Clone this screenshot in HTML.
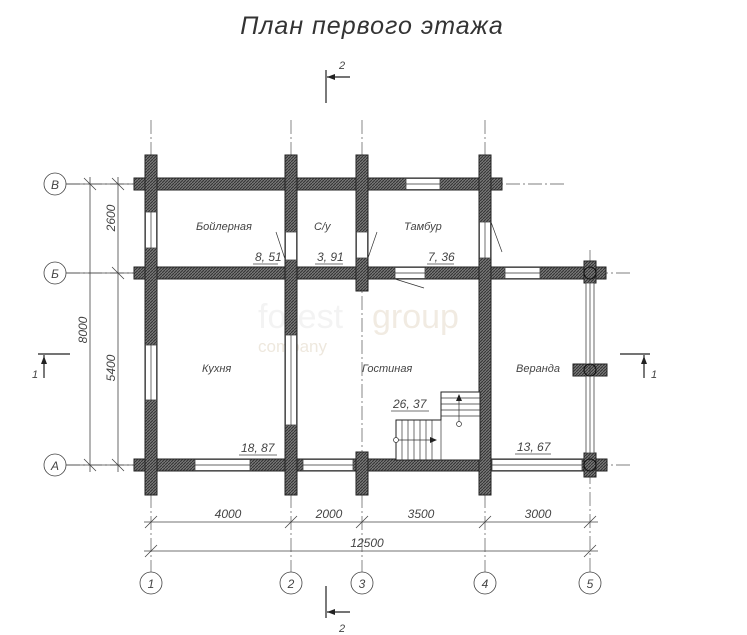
<!DOCTYPE html>
<html><head><meta charset="utf-8"><style>
body{margin:0;background:#fff}
svg{display:block}
text{font-family:"Liberation Sans",sans-serif;font-style:italic}
</style></head><body>
<svg width="747" height="635" viewBox="0 0 747 635">
<defs>
<pattern id="h" width="3" height="3" patternUnits="userSpaceOnUse"><rect width="3" height="3" fill="#777"/><path d="M0 3L3 0" stroke="#333" stroke-width="1"/></pattern>
</defs>
<g fill="#444">
<text x="372" y="34" font-size="25" text-anchor="middle" fill="#333" letter-spacing="1">План первого этажа</text>
</g>
<!-- section marks -->
<g stroke="#222" stroke-width="1.2" fill="none">
<line x1="326" y1="70" x2="326" y2="103"/><line x1="327" y1="77" x2="350" y2="77"/>
<line x1="326" y1="586" x2="326" y2="618"/><line x1="327" y1="612" x2="350" y2="612"/>
<line x1="38" y1="354" x2="70" y2="354"/><line x1="44" y1="355" x2="44" y2="378"/>
<line x1="620" y1="354" x2="650" y2="354"/><line x1="644" y1="355" x2="644" y2="378"/>
</g>
<g fill="#222"><path d="M327 77l8-3v6z"/><path d="M327 612l8-3v6z"/><path d="M44 356l-3 8h6z"/><path d="M644 356l-3 8h6z"/></g>
<!-- watermark -->
<text x="258" y="328" font-size="34" style="font-style:normal;fill:#f3f3f3">forest</text>
<text x="372" y="328" font-size="34" style="font-style:normal;fill:#f1ebe2">group</text>
<text x="258" y="352" font-size="17" style="font-style:normal;fill:#eee8de">company</text>
<g fill="#444">
<text x="339" y="69" font-size="11">2</text><text x="339" y="632" font-size="11">2</text>
<text x="32" y="378" font-size="11">1</text><text x="651" y="378" font-size="11">1</text>
</g>
<!-- axis lines -->
<g stroke="#555" stroke-width="0.7" stroke-dasharray="14 3 2 3" fill="none">
<line x1="151" y1="120" x2="151" y2="572"/><line x1="291" y1="120" x2="291" y2="572"/>
<line x1="362" y1="120" x2="362" y2="572"/><line x1="485" y1="120" x2="485" y2="572"/>
<line x1="590" y1="250" x2="590" y2="572"/>
<line x1="66" y1="184" x2="565" y2="184"/><line x1="66" y1="273" x2="630" y2="273"/><line x1="66" y1="465" x2="630" y2="465"/>
</g>
<!-- walls -->
<g fill="url(#h)" stroke="#222" stroke-width="1">
<rect x="134" y="178" width="368" height="12"/>
<rect x="134" y="267" width="472" height="12"/>
<rect x="134" y="459" width="473" height="12"/>
<rect x="145" y="155" width="12" height="340"/>
<rect x="285" y="155" width="12" height="340"/>
<rect x="356" y="155" width="12" height="136"/>
<rect x="356" y="452" width="12" height="43"/>
<rect x="479" y="155" width="12" height="340"/>
<rect x="573" y="364" width="34" height="12"/>
<rect x="584" y="261" width="12" height="22"/>
<rect x="584" y="453" width="12" height="24"/>
</g>
<!-- openings -->
<g fill="#fff" stroke="#444" stroke-width="0.8">
<rect x="406" y="178.5" width="34" height="11"/>
<rect x="395" y="267.5" width="30" height="11"/>
<rect x="505" y="267.5" width="35" height="11"/>
<rect x="195" y="459.5" width="55" height="11"/>
<rect x="303" y="459.5" width="50" height="11"/>
<rect x="492" y="459.5" width="90" height="11"/>
<rect x="145.5" y="212" width="11" height="36"/>
<rect x="145.5" y="345" width="11" height="55"/>
<rect x="285.5" y="232" width="11" height="28"/>
<rect x="285.5" y="335" width="11" height="90"/>
<rect x="356.5" y="232" width="11" height="26"/>
<rect x="479.5" y="222" width="11" height="36"/>
<rect x="586" y="283" width="8" height="81"/>
<rect x="586" y="376" width="8" height="77"/>
</g>
<g stroke="#333" stroke-width="0.7" fill="none">
<line x1="406" y1="184" x2="440" y2="184"/><line x1="395" y1="273" x2="425" y2="273"/>
<line x1="505" y1="273" x2="540" y2="273"/><line x1="195" y1="465" x2="250" y2="465"/>
<line x1="303" y1="465" x2="353" y2="465"/><line x1="492" y1="465" x2="582" y2="465"/>
<line x1="151" y1="212" x2="151" y2="248"/><line x1="151" y1="345" x2="151" y2="400"/>
<line x1="291" y1="335" x2="291" y2="425"/><line x1="590" y1="283" x2="590" y2="453"/>
<line x1="485" y1="222" x2="485" y2="258"/>
<line x1="276" y1="232" x2="285" y2="259"/><line x1="377" y1="232" x2="368" y2="258"/>
<line x1="491" y1="222" x2="502" y2="252"/><line x1="395" y1="279" x2="424" y2="288"/>
</g>
<g stroke="#111" stroke-width="1.1" fill="none">
<circle cx="590" cy="273" r="6"/><circle cx="590" cy="370" r="6"/><circle cx="590" cy="465" r="6"/>
</g>
<!-- stairs -->
<g stroke="#222" stroke-width="1" fill="#fff">
<path d="M441 392H480V460H396V420H441Z"/>
</g>
<g stroke="#333" stroke-width="0.7" fill="none">
<line x1="441" y1="398" x2="480" y2="398"/><line x1="441" y1="404" x2="480" y2="404"/><line x1="441" y1="410" x2="480" y2="410"/><line x1="441" y1="416" x2="480" y2="416"/><line x1="441" y1="420" x2="441" y2="460"/>
<line x1="402" y1="420" x2="402" y2="460"/><line x1="408" y1="420" x2="408" y2="460"/><line x1="414" y1="420" x2="414" y2="460"/><line x1="420" y1="420" x2="420" y2="460"/><line x1="426" y1="420" x2="426" y2="460"/><line x1="432" y1="420" x2="432" y2="460"/>
<line x1="459" y1="424" x2="459" y2="396"/><line x1="396" y1="440" x2="436" y2="440"/>
<circle cx="459" cy="424" r="2.5" fill="#fff"/><circle cx="396" cy="440" r="2.5" fill="#fff"/>
</g>
<path d="M459 394l-3 7h6z M437 440l-7-3v6z" fill="#222"/>
<!-- labels -->
<g font-size="11" fill="#444">
<text x="196" y="230">Бойлерная</text><text x="314" y="230">С/у</text><text x="404" y="230">Тамбур</text>
<text x="202" y="372">Кухня</text><text x="362" y="372">Гостиная</text><text x="516" y="372">Веранда</text>
</g>
<g font-size="12" fill="#444">
<text x="255" y="261">8, 51</text><text x="317" y="261">3, 91</text><text x="428" y="261">7, 36</text>
<text x="393" y="408">26, 37</text><text x="241" y="452">18, 87</text><text x="517" y="451">13, 67</text>
</g>
<g stroke="#444" stroke-width="0.8">
<line x1="253" y1="264" x2="278" y2="264"/><line x1="315" y1="264" x2="343" y2="264"/><line x1="427" y1="264" x2="454" y2="264"/>
<line x1="391" y1="411" x2="429" y2="411"/><line x1="239" y1="455" x2="277" y2="455"/><line x1="515" y1="454" x2="551" y2="454"/>
</g>
<!-- left dimensions -->
<g stroke="#444" stroke-width="0.8" fill="none">
<line x1="90" y1="177" x2="90" y2="472"/><line x1="118" y1="177" x2="118" y2="472"/>
<line x1="84" y1="178" x2="96" y2="190"/><line x1="84" y1="459" x2="96" y2="471"/>
<line x1="112" y1="178" x2="124" y2="190"/><line x1="112" y1="267" x2="124" y2="279"/><line x1="112" y1="459" x2="124" y2="471"/>
<line x1="66" y1="184" x2="134" y2="184"/><line x1="66" y1="273" x2="134" y2="273"/><line x1="66" y1="465" x2="134" y2="465"/>
<circle cx="55" cy="184" r="11" fill="#fff"/><circle cx="55" cy="273" r="11" fill="#fff"/><circle cx="55" cy="465" r="11" fill="#fff"/>
</g>
<g font-size="12" fill="#444"><text x="55" y="189" text-anchor="middle">В</text><text x="55" y="278" text-anchor="middle">Б</text><text x="55" y="470" text-anchor="middle">А</text>
<text transform="translate(87 330) rotate(-90)" text-anchor="middle">8000</text>
<text transform="translate(115 218) rotate(-90)" text-anchor="middle">2600</text>
<text transform="translate(115 368) rotate(-90)" text-anchor="middle">5400</text>
</g>
<!-- bottom dimensions -->
<g stroke="#444" stroke-width="0.8" fill="none">
<line x1="144" y1="522" x2="598" y2="522"/><line x1="144" y1="551" x2="598" y2="551"/>
<line x1="145" y1="528" x2="157" y2="516"/><line x1="285" y1="528" x2="297" y2="516"/><line x1="356" y1="528" x2="368" y2="516"/><line x1="479" y1="528" x2="491" y2="516"/><line x1="584" y1="528" x2="596" y2="516"/>
<line x1="145" y1="557" x2="157" y2="545"/><line x1="584" y1="557" x2="596" y2="545"/>
<circle cx="151" cy="583" r="11" fill="#fff"/><circle cx="291" cy="583" r="11" fill="#fff"/><circle cx="362" cy="583" r="11" fill="#fff"/><circle cx="485" cy="583" r="11" fill="#fff"/><circle cx="590" cy="583" r="11" fill="#fff"/>
</g>
<g font-size="12" text-anchor="middle" fill="#444">
<text x="228" y="518">4000</text><text x="329" y="518">2000</text><text x="421" y="518">3500</text><text x="538" y="518">3000</text>
<text x="367" y="547">12500</text>
<text x="151" y="588">1</text><text x="291" y="588">2</text><text x="362" y="588">3</text><text x="485" y="588">4</text><text x="590" y="588">5</text>
</g>
</svg>
</body></html>
